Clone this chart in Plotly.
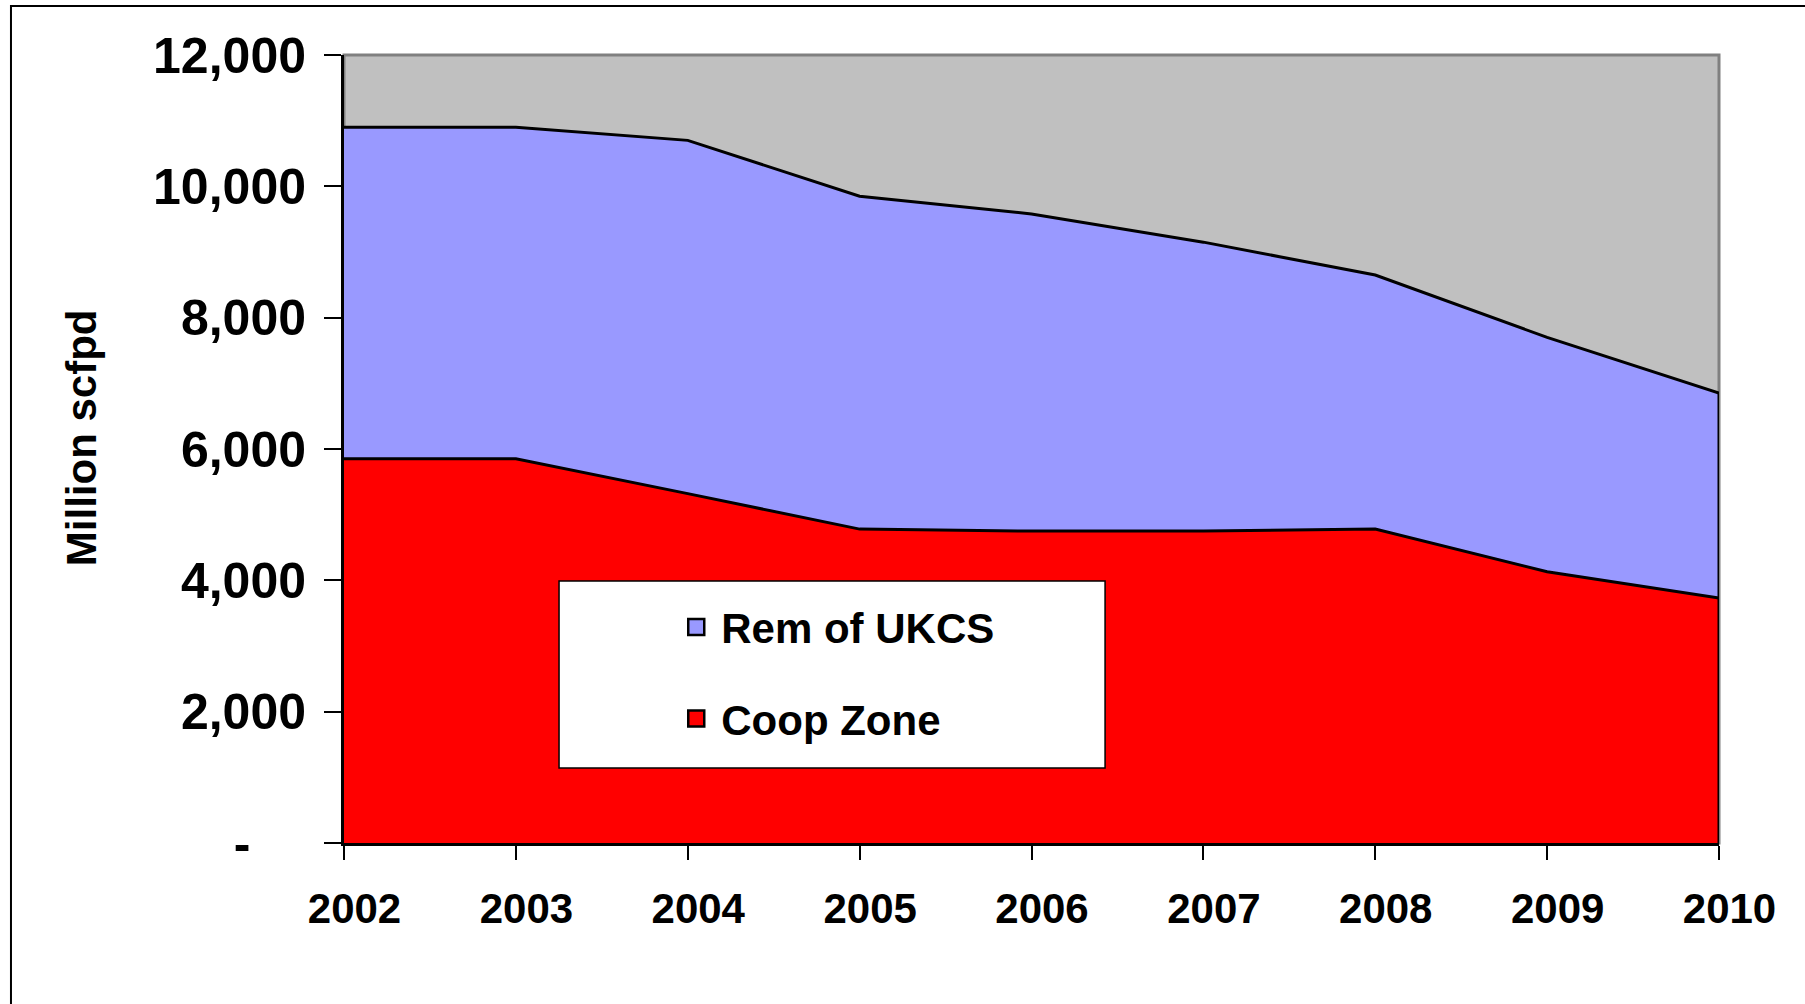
import plotly.graph_objects as go

years = [2002, 2003, 2004, 2005, 2006, 2007, 2008, 2009, 2010]
coop_zone = [5850, 5850, 5320, 4780, 4750, 4750, 4780, 4130, 3730]
rem_ukcs = [5050, 5050, 5380, 5070, 4830, 4400, 3870, 3570, 3120]
y_tick_vals = [0, 2000, 4000, 6000, 8000, 10000, 12000]
y_tick_text = ["-\u00a0\u00a0\u00a0\u00a0", "2,000", "4,000", "6,000", "8,000", "10,000", "12,000"]
x_tick_text = ["\u2002" + str(y) for y in years]
y_title = "Million scfpd"

FONT = "Liberation Sans, Arial, sans-serif"
RED = "#FF0000"
BLUE = "#9999FF"

fig = go.Figure()
fig.add_trace(go.Scatter(x=years, y=coop_zone, stackgroup="s", mode="lines",
                         line=dict(color="black", width=3), fillcolor=RED,
                         name="Coop Zone", showlegend=False, hoverinfo="skip"))
fig.add_trace(go.Scatter(x=years, y=rem_ukcs, stackgroup="s", mode="lines",
                         line=dict(color="black", width=3), fillcolor=BLUE,
                         name="Rem of UKCS", showlegend=False, hoverinfo="skip"))
# right-hand edge of the stacked area
total_last = coop_zone[-1] + rem_ukcs[-1]
fig.add_trace(go.Scatter(x=[years[-1], years[-1]], y=[0, total_last], mode="lines",
                         line=dict(color="black", width=3), showlegend=False, hoverinfo="skip"))
# legend entries
fig.add_trace(go.Scatter(x=[None], y=[None], mode="markers", name="Rem of UKCS",
                         legendgroup="a",
                         marker=dict(symbol="square", size=16, color=BLUE, line=dict(color="black", width=2.5))))
fig.add_trace(go.Scatter(x=[None], y=[None], mode="markers", name="Coop Zone",
                         legendgroup="b",
                         marker=dict(symbol="square", size=16, color=RED, line=dict(color="black", width=2.5))))

fig.update_layout(
    width=1805, height=1004,
    margin=dict(l=344, r=86, t=55, b=161, autoexpand=False),
    paper_bgcolor="white", plot_bgcolor="#C0C0C0",
    font=dict(family=FONT, color="black", weight="bold"),
    showlegend=True,
    legend=dict(x=0.238, y=0.317, xanchor="left", yanchor="top",
                bgcolor="rgba(0,0,0,0)", borderwidth=0, itemwidth=40,
                font=dict(size=42, family=FONT, weight="bold"),
                tracegroupgap=34, traceorder="grouped"),
    xaxis=dict(range=[years[0], years[-1]], tickmode="array", tickvals=years, ticktext=x_tick_text,
               showgrid=False, zeroline=False, showline=True, linecolor="black", linewidth=3,
               ticks="outside", ticklen=14, tickwidth=1.5, tickcolor="black",
               tickfont=dict(size=42, family=FONT, weight="bold"), ticklabelstandoff=13),
    yaxis=dict(range=[0, 12000], tickmode="array", tickvals=y_tick_vals, ticktext=y_tick_text,
               showgrid=False, zeroline=False, showline=True, linecolor="black", linewidth=3,
               ticks="outside", ticklen=17, tickwidth=2, tickcolor="black",
               tickfont=dict(size=50, family=FONT, weight="bold"), ticklabelstandoff=8),
    annotations=[dict(text=y_title, xref="paper", yref="paper", x=-0.1913, y=0.515,
                      xanchor="center", yanchor="middle", textangle=-90, showarrow=False,
                      font=dict(size=42, family=FONT, weight="bold"))],
    shapes=[
        dict(type="rect", xref="paper", yref="paper", x0=0, x1=1, y0=0, y1=1,
             line=dict(color="#808080", width=3), fillcolor="rgba(0,0,0,0)", layer="below"),
        dict(type="rect", xref="paper", yref="paper", x0=0.1564, x1=0.5535, y0=0.0952, y1=0.3325,
             line=dict(color="black", width=1.5), fillcolor="white", layer="above"),
        dict(type="rect", xref="paper", yref="paper", x0=-0.2422, x1=1.2, y0=-0.3, y1=1.0622,
             line=dict(color="black", width=2), fillcolor="rgba(0,0,0,0)", layer="below"),
    ],
)

fig.write_html("out.html", config={"displayModeBar": False},
               post_script="document.body.style.margin='0';")
